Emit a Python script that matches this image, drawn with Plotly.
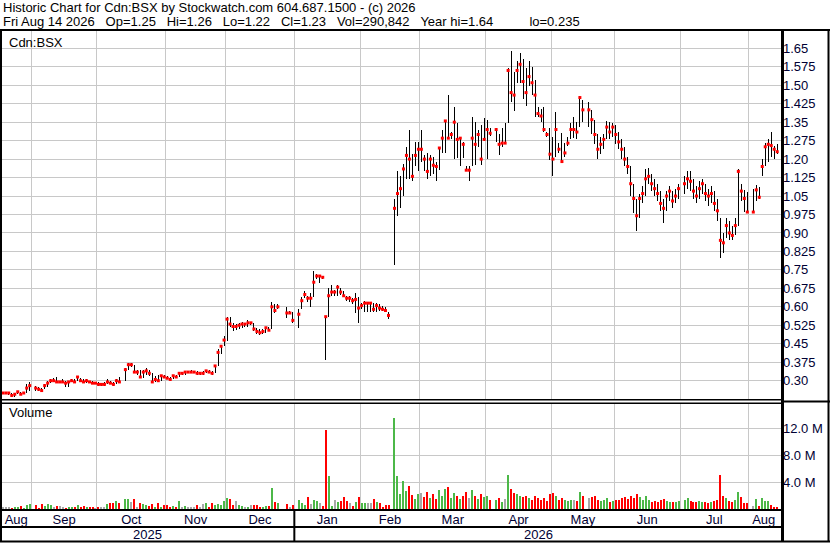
import pandas as pd
import plotly.graph_objects as go

# Weekday slots of the chart (market holidays are kept as empty slots)
dates = pd.bdate_range("2025-08-18", "2026-08-14")

close = (
    [.25, .25, .25, .24, .245, .255, .245, .25, .27, .28]  # Aug 2025
    + [None, .27, .265, .26, .28, .29, .30, .30, .295, .295, .295, .29, .295, .30, .295, .315, .30, .295, .30, .295, .29, .29]  # Sep
    + [.285, .285, .285, .295, .29, .285, .30, .295, None, .345, .365, .365, .335, .335, .315, .335, .34, .33, .295, .305, .30, .32, .315]  # Oct
    + [.31, .305, .32, .315, .33, .33, .335, .335, .335, .335, .33, .33, .33, .34, .335, .33, .36, .415, .44, .465]  # Nov
    + [.55, .53, .52, .52, .525, .53, .53, .535, .535, .51, .50, .495, .50, .515, .505, .60, .585, .60, None, None, .575, .575, .545]  # Dec
    + [None, .57, .625, .65, .635, .635, .70, .725, .725, .72, .56, .645, .66, .66, .68, .66, .645, .635, .635, .625, .63, .595]  # Jan 2026
    + [.605, .615, .615, .615, .59, .605, .595, .59, .585, .565, None, 1.00, 1.06, 1.08, 1.16, 1.215, 1.20, 1.13, 1.215, 1.24]  # Feb
    + [1.24, 1.20, 1.15, 1.20, 1.175, 1.17, 1.245, 1.285, 1.355, 1.285, 1.30, 1.35, 1.28, 1.285, 1.26, 1.155, 1.155, 1.285, 1.26, 1.30, 1.20, 1.28]  # Mar
    + [1.32, 1.305, None, 1.32, 1.26, 1.265, 1.265, 1.56, 1.47, 1.46, 1.56, 1.585, 1.515, 1.47, 1.535, 1.51, 1.46, 1.385, 1.375, 1.32, 1.30, 1.22]  # Apr
    + [1.20, 1.32, 1.24, 1.19, 1.225, 1.265, 1.32, 1.32, 1.31, 1.45, 1.40, None, 1.40, 1.36, 1.30, 1.24, 1.26, 1.28, 1.33, 1.31, 1.33]  # May
    + [1.30, 1.27, 1.24, 1.20, 1.17, 1.10, 1.04, 0.97, 1.04, 1.06, 1.12, 1.13, 1.10, 1.08, 1.06, 1.02, 1.00, 1.05, 1.07, 1.03, 1.05, 1.08]  # Jun
    + [None, 1.10, 1.12, 1.11, 1.07, 1.05, 1.08, 1.10, 1.06, 1.05, 1.06, 1.02, 0.99, 0.87, 0.86, 0.93, 0.90, 0.89, 0.93, 1.15, 1.07, 1.04, 0.985]  # Jul
    + [None, 0.985, 1.075, 1.045, 1.17, 1.25, 1.26, 1.255, 1.24, 1.23]  # Aug
)

high = (
    [.255, .255, .255, .25, .25, .26, .255, .255, .285, .295]
    + [None, .28, .275, .27, .285, .30, .305, .31, .315, .30, .305, .30, .30, .305, .305, .32, .31, .305, .305, .30, .30, .295]
    + [.295, .29, .295, .305, .30, .295, .305, .315, None, .35, .37, .37, .365, .345, .345, .345, .35, .345, .33, .32, .325, .325, .325]
    + [.32, .315, .325, .325, .335, .335, .34, .34, .345, .34, .34, .335, .34, .345, .345, .34, .365, .43, .445, .48]
    + [.56, .56, .535, .53, .535, .54, .535, .545, .54, .535, .515, .51, .51, .52, .52, .62, .61, .61, None, None, .60, .585, .58]
    + [None, .59, .64, .665, .645, .655, .745, .735, .73, .725, .56, .675, .69, .67, .69, .675, .665, .645, .645, .635, .655, .64]
    + [.615, .625, .62, .62, .615, .615, .61, .605, .60, .58, None, 1.04, 1.15, 1.13, 1.18, 1.25, 1.32, 1.22, 1.27, 1.27]
    + [1.32, 1.215, 1.225, 1.215, 1.21, 1.19, 1.25, 1.32, 1.36, 1.46, 1.31, 1.41, 1.345, 1.29, 1.27, 1.17, 1.17, 1.37, 1.35, 1.32, 1.34, 1.365]
    + [1.36, 1.325, None, 1.325, 1.30, 1.325, 1.345, 1.57, 1.64, 1.555, 1.60, 1.63, 1.605, 1.57, 1.60, 1.575, 1.52, 1.41, 1.405, 1.41, 1.31, 1.325]
    + [1.29, 1.39, 1.265, 1.305, 1.265, 1.29, 1.345, 1.37, 1.35, 1.455, 1.44, None, 1.43, 1.40, 1.36, 1.30, 1.29, 1.30, 1.355, 1.35, 1.345]
    + [1.34, 1.31, 1.28, 1.25, 1.21, 1.17, 1.10, 1.04, 1.06, 1.09, 1.16, 1.165, 1.14, 1.12, 1.10, 1.07, 1.04, 1.07, 1.09, 1.07, 1.08, 1.10]
    + [None, 1.13, 1.15, 1.15, 1.12, 1.09, 1.11, 1.12, 1.10, 1.08, 1.09, 1.07, 1.04, 0.96, 0.90, 0.96, 0.95, 0.93, 0.96, 1.16, 1.10, 1.075, 1.065]
    + [None, 1.08, 1.095, 1.085, 1.20, 1.265, 1.28, 1.31, 1.255, 1.26]
)

low = (
    [.245, .245, .24, .235, .235, .245, .24, .245, .25, .26]
    + [None, .26, .26, .255, .265, .275, .29, .295, .29, .29, .29, .275, .275, .295, .29, .30, .295, .29, .29, .29, .285, .285]
    + [.28, .28, .28, .285, .285, .28, .285, .29, None, .30, .345, .355, .33, .325, .31, .31, .325, .32, .295, .295, .295, .30, .31]
    + [.305, .30, .305, .31, .315, .325, .325, .33, .33, .33, .325, .325, .325, .33, .33, .325, .33, .36, .41, .44]
    + [.46, .52, .50, .505, .51, .515, .52, .52, .525, .50, .49, .485, .49, .495, .50, .51, .575, .59, None, None, .555, .57, .535]
    + [None, .515, .59, .635, .62, .60, .64, .715, .695, .715, .385, .56, .645, .645, .645, .65, .64, .625, .62, .61, .575, .535]
    + [.59, .58, .58, .58, .58, .58, .585, .585, .58, .55, None, .77, .97, 1.00, 1.05, 1.12, 1.12, 1.11, 1.17, 1.15]
    + [1.19, 1.15, 1.12, 1.13, 1.14, 1.11, 1.155, 1.225, 1.225, 1.28, 1.28, 1.20, 1.205, 1.17, 1.205, 1.15, 1.11, 1.17, 1.175, 1.25, 1.175, 1.275]
    + [1.20, 1.295, None, 1.27, 1.215, 1.25, 1.26, 1.345, 1.43, 1.395, 1.51, 1.51, 1.445, 1.415, 1.495, 1.46, 1.37, 1.37, 1.35, 1.31, 1.29, 1.195]
    + [1.13, 1.21, 1.225, 1.185, 1.21, 1.255, 1.28, 1.285, 1.28, 1.33, 1.35, None, 1.33, 1.30, 1.26, 1.20, 1.22, 1.24, 1.28, 1.28, 1.29]
    + [1.26, 1.24, 1.20, 1.17, 1.14, 1.05, 0.98, 0.91, 0.96, 1.02, 1.05, 1.10, 1.07, 1.05, 1.03, 0.99, 0.94, 0.99, 1.03, 1.00, 1.02, 1.04]
    + [None, 1.06, 1.08, 1.07, 1.04, 1.02, 1.04, 1.06, 1.03, 1.01, 1.02, 0.99, 0.95, 0.80, 0.82, 0.88, 0.87, 0.87, 0.89, 0.93, 1.03, 0.985, 0.98]
    + [None, 0.98, 1.03, 1.04, 1.13, 1.17, 1.19, 1.21, 1.20, 1.22]
)

volume_m = (  # millions of shares
    [.25, .35, .25, .20, .35, .35, .45, .20, .60, .75]
    + [None, .55, .20, .75, .45, .75, .60, .35, .45, .45, .35, .20, .35, .35, .35, .60, .35, .50, .35, .35, .35, .20]
    + [.30, .35, .25, .75, .94, .94, 1.24, .94, None, 1.54, 1.54, 1.09, 1.54, .35, .94, .74, .64, .45, .74, .35, .89, .35, .64]
    + [.54, .35, .45, .25, 1.24, .35, .45, .35, .35, .35, .64, .35, .74, .84, .25, .94, .54, .74, .64, 1.14]
    + [1.64, 1.54, .64, 1.24, .64, .45, .35, .35, .55, .64, .55, .25, .35, .45, .45, 3.12, 1.09, .94, None, None, .74, .25, .59]
    + [None, 1.34, .94, .59, 1.78, .74, 1.34, 1.24, .94, .45, 11.75, 4.91, .45, 1.34, 1.09, 1.24, 1.78, 1.24, .84, .45, 1.04, 1.78]
    + [.84, .84, .84, .84, 1.49, 1.04, .84, .25, .59, .59, None, 13.53, 4.91, 2.23, 4.21, 2.73, 3.42, 2.08, 1.49, 2.23]
    + [2.4, 1.8, 2.6, 1.6, 2.2, 1.5, 2.8, 2.0, 3.0, 3.2, 1.6, 2.4, 2.0, 1.5, 1.9, 2.5, 1.7, 2.8, 1.9, 1.5, 2.2, 1.8]
    + [2.0, 1.4, None, 1.3, 1.6, 1.1, 1.5, 5.0, 3.0, 2.4, 2.2, 2.0, 1.8, 1.9, 1.6, 1.4, 2.0, 1.6, 1.3, 1.7, 1.2, 2.2]
    + [2.4, 1.9, 1.4, 1.6, 1.3, 1.2, 1.4, 1.3, 1.2, 2.6, 1.9, None, 1.6, 1.8, 2.0, 1.4, 1.2, 1.3, 1.6, 1.1, 1.2]
    + [1.3, 1.4, 1.6, 1.8, 1.5, 1.9, 1.7, 2.3, 1.8, 1.3, 1.9, 1.4, 1.1, 1.2, 1.0, 1.3, 1.5, 1.2, 1.1, 1.0, 1.1, 1.2]
    + [None, 1.3, 1.6, 1.2, 1.1, 1.0, 1.2, 1.1, 1.0, 0.9, 1.0, 1.2, 1.4, 5.0, 1.9, 1.6, 1.2, 1.1, 1.3, 2.5, 1.8, 0.85, 0.85]
    + [None, 0.45, 1.5, 0.45, 1.6, 1.2, 1.2, 0.6, 0.35, 0.29]
)

price_ticks = [1.65, 1.575, 1.50, 1.425, 1.35, 1.275, 1.20, 1.125, 1.05, 0.975,
               0.90, 0.825, 0.75, 0.675, 0.60, 0.525, 0.45, 0.375, 0.30]
price_tick_text = ["1.65", "1.575", "1.50", "1.425", "1.35", "1.275", "1.20", "1.125", "1.05", "0.975",
                   "0.90", "0.825", "0.75", "0.675", "0.60", "0.525", "0.45", "0.375", "0.30"]
vol_ticks = [4, 8, 12]
vol_tick_text = ["4.0 M", "8.0 M", "12.0 M"]

header1 = "Historic Chart for Cdn:BSX by Stockwatch.com 604.687.1500 - (c) 2026"
header2_parts = ["Fri Aug 14 2026", "Op=1.25", "Hi=1.26", "Lo=1.22", "Cl=1.23",
                 "Vol=290,842", "Year hi=1.64"]
header2_tail = "lo=0.235"

N = len(dates)
assert len(close) == N and len(high) == N and len(low) == N and len(volume_m) == N, (N, len(close), len(high), len(low), len(volume_m))

W, H = 830, 543
GRID = "#c8c8c8"
GREEN, RED, GRAY = "#4cb848", "#ff0000", "#a8a8a8"
TXT = "#000033"
FONT = "Liberation Sans, Arial, sans-serif"

idx = list(range(N))

# volume colours follow the direction of the close
vcolors = []
prev = None
for c in close:
    if c is None:
        vcolors.append(GRAY)
        continue
    if prev is None or abs(c - prev) < 1e-9:
        vcolors.append(GRAY)
    elif c > prev:
        vcolors.append(GREEN)
    else:
        vcolors.append(RED)
    prev = c

err_up = [None if c is None else h - c for c, h in zip(close, high)]
err_dn = [None if c is None else c - l for c, l in zip(close, low)]

# month ticks / boundaries from the date slots
first, last, names = {}, {}, {}
for j, d in enumerate(dates):
    k = (d.year, d.month)
    first.setdefault(k, j)
    last[k] = j
    names[k] = d.strftime("%b")
keys = list(first)
month_mid = [(first[k] + last[k]) / 2 for k in keys]
month_txt = [names[k] for k in keys]
month_bounds = [first[k] - 0.5 for k in keys[1:]]
year_bound = first[(2026, 1)] - 0.5

# pixel geometry
x_right_px = 782
px_per = 2.99
x0 = -2.8 / px_per
x1 = (x_right_px - 2.8) / px_per
xrange = [x0, x1]

def py(y):
    return 1 - y / H

def pxx(x):
    return x / W

price_top, price_bot = 30, 400
vol_top, vol_bot = 403, 510
p_per = 246.2
prange = [0.30 - (price_bot - 380.7) / p_per, 1.65 + (48.3 - price_top) / p_per]
v_per = 6.725
vzero = 509
vrange = [-(vol_bot - vzero) / v_per, (vzero - vol_top) / v_per]

fig = go.Figure()
fig.add_trace(go.Scatter(
    x=idx, y=close, mode="markers", xaxis="x", yaxis="y",
    marker=dict(symbol="square", size=3, color=RED, line=dict(width=0)),
    error_y=dict(type="data", symmetric=False, array=err_up, arrayminus=err_dn,
                 color="black", thickness=1, width=0),
    hoverinfo="skip", showlegend=False,
))
fig.add_trace(go.Bar(
    x=idx, y=volume_m, xaxis="x2", yaxis="y2", width=0.67,
    marker=dict(color=vcolors, line=dict(width=0)),
    hoverinfo="skip", showlegend=False,
))

xdom = [0, x_right_px / W]
common_x = dict(range=xrange, domain=xdom, showgrid=False, zeroline=False, showline=False,
                ticks="", fixedrange=True,
                minor=dict(tickmode="array", tickvals=month_bounds, showgrid=True,
                           gridcolor=GRID, gridwidth=1, ticks=""))
fig.update_layout(
    width=W, height=H, template="none",
    margin=dict(l=0, r=0, t=0, b=0, pad=0),
    paper_bgcolor="white", plot_bgcolor="white",
    font=dict(family=FONT, size=13, color=TXT),
    bargap=0, showlegend=False, hovermode=False,
    xaxis=dict(common_x, anchor="y", showticklabels=False, automargin=False),
    xaxis2=dict(common_x, anchor="y2", showticklabels=True, tickmode="array",
                tickvals=month_mid, ticktext=month_txt, automargin=False,
                tickfont=dict(family=FONT, size=13, color=TXT)),
    yaxis=dict(domain=[py(price_bot), py(price_top)], range=prange, side="right",
               tickmode="array", tickvals=price_ticks, ticktext=price_tick_text,
               showgrid=True, gridcolor=GRID, gridwidth=1, zeroline=False, ticks="",
               showline=False, automargin=False, anchor="x", fixedrange=True,
               tickfont=dict(family=FONT, size=13, color=TXT)),
    yaxis2=dict(domain=[py(vol_bot), py(vol_top)], range=vrange, side="right",
                tickmode="array", tickvals=vol_ticks, ticktext=vol_tick_text,
                showgrid=True, gridcolor=GRID, gridwidth=1, zeroline=False, ticks="",
                showline=False, automargin=False, anchor="x2", fixedrange=True,
                tickfont=dict(family=FONT, size=13, color=TXT)),
)

NB = "\u00a0"
header2 = (NB * 3).join(header2_parts) + NB * 10 + header2_tail
annos = [
    dict(text=header1, x=pxx(1), y=py(8)),
    dict(text=header2, x=pxx(1), y=py(21)),
    dict(text="Cdn:BSX", x=pxx(7), y=py(42.5)),
    dict(text="Volume", x=pxx(7), y=py(413)),
]
for a in annos:
    fig.add_annotation(xref="paper", yref="paper", xanchor="left", yanchor="middle",
                       showarrow=False, font=dict(family=FONT, size=13, color="black"), **a)
for yr, xm in (("2025", (x0 + year_bound) / 2), ("2026", (year_bound + x1) / 2)):
    fig.add_annotation(xref="x2", yref="paper", x=xm, y=py(534.5), text=yr, showarrow=False,
                       xanchor="center", yanchor="middle",
                       font=dict(family=FONT, size=13, color=TXT))

def line(xa, ya, xb, yb, w=2):
    fig.add_shape(type="line", xref="paper", yref="paper",
                  x0=pxx(xa), x1=pxx(xb), y0=py(ya), y1=py(yb),
                  line=dict(color="black", width=w), layer="above")

line(0, 30, 830, 30, 2)          # header bottom
line(1, 30, 1, 542, 2)           # left border
line(828.5, 30, 828.5, 542, 2)   # right border
line(0, 541.5, 830, 541.5, 2)    # bottom border
line(782.5, 30, 782.5, 542, 3)   # plot right edge
line(0, 399.8, 782, 399.8, 1.5)  # price panel bottom (double)
line(0, 403.2, 782, 403.2, 1.5)
line(782, 401.5, 830, 401.5, 2)
line(0, 510, 782, 510, 2)        # volume bottom
line(0, 527, 782, 527, 2)        # year row
fig.add_shape(type="line", xref="x2", yref="paper", x0=year_bound, x1=year_bound,
              y0=py(510), y1=py(541.5), line=dict(color="black", width=2), layer="above")

post = (
    "document.body.style.margin='0';document.body.style.padding='0';"
    "document.querySelectorAll('.errorbar path').forEach(function(p){p.style.shapeRendering='crispEdges';});"
    "document.querySelectorAll('.bars path').forEach(function(p){p.style.shapeRendering='crispEdges';});"
)
fig.write_html("out.html", config={"displayModeBar": False, "staticPlot": True}, post_script=post)
